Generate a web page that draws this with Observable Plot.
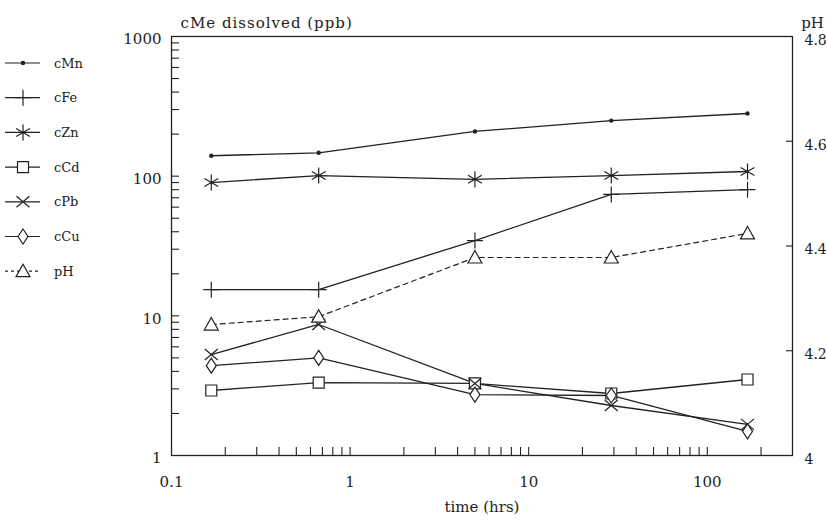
<!DOCTYPE html>
<html><head><meta charset="utf-8">
<script src="https://cdn.jsdelivr.net/npm/d3@7"></script>
<script src="https://cdn.jsdelivr.net/npm/@observablehq/plot@0.6"></script>
<style>
html,body{margin:0;padding:0;background:#fff;}
#wrap{position:relative;width:827px;height:521px;}
#legend{position:absolute;left:0;top:0;}
.ytitle{letter-spacing:1px;}
</style></head><body><div id="wrap"></div>
<script>
// ---- data ----
const times = [0.167, 0.667, 5, 29, 168];
const cMn = [140, 147, 209, 250, 281];
const cFe = [15.4, 15.4, 34.6, 74, 80];
const cZn = [90, 101, 95, 101, 108];
const cCd = [2.92, 3.33, 3.28, 2.78, 3.5];
const cPb = [5.28, 8.67, 3.28, 2.28, 1.67];
const cCu = [4.4, 5.0, 2.73, 2.69, 1.49];
const pH = [4.25, 4.265, 4.378, 4.378, 4.424];
const seriesNames = ["cMn", "cFe", "cZn", "cCd", "cPb", "cCu", "pH"];
const xLabelTicks = [0.1, 1, 10, 100];
const yLabelTicks = [1, 10, 100, 1000];
const pHTicks = [4, 4.2, 4.4, 4.6, 4.8];
const pHInnerTicks = [4.2, 4.4, 4.6];
const xTitle = "time (hrs)";
const yTitle = "cMe dissolved (ppb)";
const y2Title = "pH";

// ---- helpers ----
const INK = "#222";
const pHMin = 4, pHMax = 4.8;
const toY = p => Math.pow(10, (p - pHMin) / (pHMax - pHMin) * 3);

const W = 827, H = 521, mL = 171, mR = 35, mT = 36, mB = 66;
const FW = W - mL - mR, FH = H - mT - mB;

// minor ticks (2..9 per decade)
const xMinor = [];
for (const d of [0.1, 1, 10, 100]) for (let k = 1; k <= 9; k++) { const v = d * k; if (v > 0.1 && v < 300) xMinor.push(v); }
const yMinor = [];
for (const d of [1, 10, 100]) for (let k = 1; k <= 9; k++) { const v = d * k; if (v > 1 && v < 1000) yMinor.push(v); }

// custom symbols
const sym = f => ({draw(ctx) { f(ctx); }});
const symbols = {
  cMn: sym(c => { c.moveTo(1.6, 0); c.arc(0, 0, 1.6, 0, 2 * Math.PI); }),
  cFe: sym(c => { c.moveTo(-8, 0); c.lineTo(8, 0); c.moveTo(0, -8); c.lineTo(0, 8); }),
  cZn: sym(c => { c.moveTo(0, -8); c.lineTo(0, 8); const a = 6.9, b = 4;
    c.moveTo(-a, -b); c.lineTo(a, b); c.moveTo(-a, b); c.lineTo(a, -b); }),
  cCd: sym(c => { c.moveTo(-5.5, -5.5); c.lineTo(5.5, -5.5); c.lineTo(5.5, 5.5); c.lineTo(-5.5, 5.5); c.closePath(); }),
  cPb: sym(c => { c.moveTo(-6.5, -5.5); c.lineTo(6.5, 5.5); c.moveTo(-6.5, 5.5); c.lineTo(6.5, -5.5); }),
  cCu: sym(c => { c.moveTo(0, -7.5); c.lineTo(5, 0); c.lineTo(0, 7.5); c.lineTo(-5, 0); c.closePath(); }),
  pH: sym(c => { c.moveTo(0, -7); c.lineTo(7, 5.5); c.lineTo(-7, 5.5); c.closePath(); })
};
const filled = {cMn: INK, cFe: "none", cZn: "none", cCd: "white", cPb: "none", cCu: "white", pH: "white"};

const seriesValues = {cMn, cFe, cZn, cCd, cPb, cCu};
const rows = [];
for (const name of seriesNames.slice(0, 6)) seriesValues[name].forEach((v, i) => rows.push({series: name, t: times[i], v}));
const pHRows = pH.map((p, i) => ({series: "pH", t: times[i], v: toY(p), p}));

const dotMarks = seriesNames.map(name =>
  Plot.dot(name === "pH" ? pHRows : rows.filter(r => r.series === name), {
    x: "t", y: "v", symbol: symbols[name], r: 5,
    stroke: INK, strokeWidth: 1.2, fill: filled[name]
  }));

const chart = Plot.plot({
  width: W, height: H,
  marginLeft: mL, marginRight: mR, marginTop: mT, marginBottom: mB,
  style: {fontFamily: "DejaVu Serif", fontSize: "15px", background: "white", color: INK},
  x: {type: "log", domain: [0.1, 300], axis: null},
  y: {type: "log", domain: [1, 1000], axis: null},
  marks: [
    Plot.frame({stroke: INK, strokeWidth: 1.3}),
    Plot.ruleX(xMinor, {x: d => d, insetTop: FH - 8, stroke: INK, strokeWidth: 1.1}),
    Plot.ruleY(yMinor, {y: d => d, insetRight: FW - 8, stroke: INK, strokeWidth: 1.1}),
    Plot.ruleY(pHInnerTicks.map(toY), {y: d => d, insetLeft: FW - 6, stroke: INK, strokeWidth: 1.1}),
    Plot.text(xLabelTicks, {x: d => d, text: d => String(d), frameAnchor: "bottom", dy: 31, fontSize: 15}),
    Plot.text(yLabelTicks, {y: d => d, text: d => String(d), frameAnchor: "left", dx: -10, dy: 3,
      textAnchor: "end", fontSize: 15}),
    Plot.text(pHTicks, {y: d => toY(d), text: d => String(d), frameAnchor: "right", dx: 12, dy: 4,
      textAnchor: "start", fontSize: 14}),
    Plot.text([yTitle], {frameAnchor: "top-left", dx: 9, dy: -19, textAnchor: "start", fontSize: 15,
      className: "ytitle"}),
    Plot.text([y2Title], {frameAnchor: "top-right", dx: 20, dy: -19, textAnchor: "middle", fontSize: 15}),
    Plot.text([xTitle], {frameAnchor: "bottom", dy: 56, fontSize: 15}),
    Plot.line(rows, {x: "t", y: "v", z: "series", stroke: INK, strokeWidth: 1.3}),
    Plot.line(pHRows, {x: "t", y: "v", stroke: INK, strokeWidth: 1.2, strokeDasharray: "5,4"}),
    ...dotMarks
  ]
});
document.getElementById("wrap").appendChild(chart);

// ---- legend ----
const leg = d3.select("#wrap").append("svg").attr("id", "legend")
  .attr("width", 150).attr("height", 300)
  .style("font-family", "DejaVu Serif").style("font-size", "13px");
seriesNames.forEach((name, i) => {
  const g = leg.append("g").attr("transform", `translate(0,${63 + i * 34.7})`);
  g.append("line").attr("x1", 5).attr("x2", 40).attr("y1", 0).attr("y2", 0)
    .attr("stroke", INK).attr("stroke-width", 1.2)
    .attr("stroke-dasharray", name === "pH" ? "3,3" : null);
  g.append("path").attr("transform", "translate(23,0)")
    .attr("d", d3.symbol().type(symbols[name]).size(80)())
    .attr("stroke", INK).attr("stroke-width", 1.2).attr("fill", filled[name]);
  g.append("text").attr("x", 54).attr("y", 0).attr("dy", "0.35em").attr("fill", INK).text(name);
});
</script>
</body></html>
